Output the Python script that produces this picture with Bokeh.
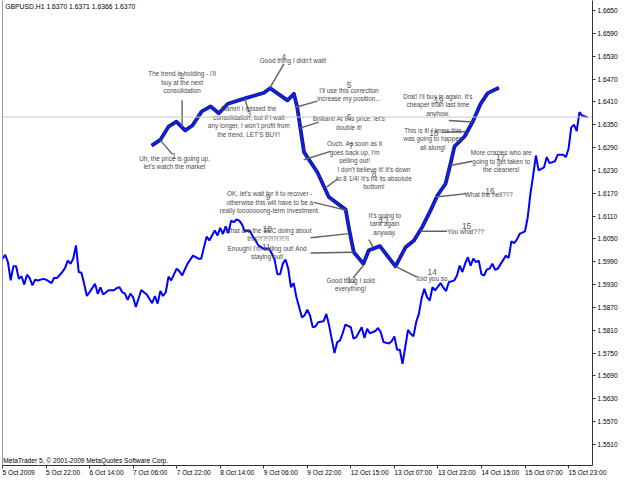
from bokeh.plotting import figure
from bokeh.models import Range1d, FixedTicker, Span, Label, NumeralTickFormatter, BoxAnnotation
from bokeh.embed import file_html
from bokeh.resources import INLINE
from bokeh.core.properties import value

# ---- price series (H1 bar index, close) ----
bar = [0, 1, 2, 3, 4, 5, 6, 7, 8, 9, 10, 11, 12, 13, 15, 16, 18, 19, 20, 22, 23, 24, 25, 26, 27, 28, 29, 30,
       31, 32, 34, 35, 36, 37, 39, 41, 42, 43, 44, 45, 46, 47, 48, 49, 51, 53, 55, 56, 57, 58, 59, 60, 61, 62,
       64, 65, 66, 68, 70, 72, 73, 75, 76, 77, 78, 79, 80, 81, 82, 83, 84, 85, 86, 87, 88, 89, 90, 91, 92, 93,
       94, 96, 98, 99, 100, 101, 102, 103, 104, 105, 106, 107, 108, 109, 110, 111, 112, 113, 114, 115, 116,
       118, 119, 120, 122, 123, 124, 125, 126, 128, 129, 130, 132, 133, 134, 135, 137, 138, 139, 140, 142,
       143, 144, 145, 146, 147, 148, 149, 150, 151, 152, 153, 154, 155, 156, 157, 158, 159, 160, 161, 162,
       163, 164, 166, 167, 168, 169, 170, 171, 172, 173, 174, 175, 176, 177, 178, 179, 180, 181, 182, 184,
       185, 186, 187, 188, 189, 190, 192, 193, 194, 195, 196, 197, 198, 199, 200, 201, 203, 204, 206, 207,
       208, 209, 210, 211, 212, 213, 214, 215]
close = [1.5998, 1.6008, 1.5989, 1.5941, 1.5978, 1.5978, 1.5945, 1.5952, 1.5930, 1.5956, 1.5947, 1.5928,
         1.5943, 1.5941, 1.5945, 1.5943, 1.5934, 1.5948, 1.5947, 1.5963, 1.5974, 1.5993, 1.5985, 1.5998,
         1.6033, 1.5963, 1.5961, 1.5932, 1.5900, 1.5910, 1.5932, 1.5906, 1.5923, 1.5904, 1.5915, 1.5915,
         1.5921, 1.5923, 1.5910, 1.5906, 1.5890, 1.5906, 1.5897, 1.5871, 1.5916, 1.5904, 1.5881, 1.5900,
         1.5880, 1.5913, 1.5900, 1.5910, 1.5951, 1.5941, 1.5972, 1.5965, 1.5954, 1.5985, 1.6006, 1.5998,
         1.5998, 1.6056, 1.6046, 1.6059, 1.6072, 1.6059, 1.6079, 1.6063, 1.6083, 1.6065, 1.6098, 1.6094,
         1.6101, 1.6098, 1.6088, 1.6070, 1.6072, 1.6070, 1.6056, 1.6046, 1.6033, 1.6024, 1.6024, 1.6011,
         1.5995, 1.5957, 1.5957, 1.5985, 1.5996, 1.5972, 1.5923, 1.5934, 1.5897, 1.5871, 1.5844, 1.5849,
         1.5864, 1.5849, 1.5818, 1.5820, 1.5831, 1.5834, 1.5853, 1.5823, 1.5750, 1.5779, 1.5783, 1.5802,
         1.5825, 1.5818, 1.5788, 1.5792, 1.5818, 1.5790, 1.5814, 1.5802, 1.5808, 1.5816, 1.5805, 1.5779,
         1.5775, 1.5781, 1.5794, 1.5759, 1.5759, 1.5722, 1.5766, 1.5811, 1.5801, 1.5794, 1.5831, 1.5853,
         1.5894, 1.5919, 1.5897, 1.5888, 1.5923, 1.5915, 1.5925, 1.5934, 1.5922, 1.5913, 1.5936, 1.5941,
         1.5954, 1.5980, 1.5963, 1.5985, 1.6002, 1.5980, 1.5998, 1.5989, 1.5993, 1.5957, 1.5954, 1.5970,
         1.5972, 1.5985, 1.5969, 1.5972, 1.5995, 1.6006, 1.6000, 1.6044, 1.6039, 1.6048, 1.6063, 1.6070,
         1.6107, 1.6169, 1.6217, 1.6269, 1.6230, 1.6234, 1.6238, 1.6265, 1.6249, 1.6254, 1.6271, 1.6271,
         1.6265, 1.6287, 1.6343, 1.6350, 1.6333, 1.6383, 1.6374, 1.6372, 1.6370]
last_price = 1.6370

# ---- hand-drawn market-cycle overlay ----
cycle_bar = [54.8, 58.1, 61.0, 63.9, 67.1, 69.8, 73.2, 76.5, 79.5, 82.8, 90.0, 96.1, 98.3, 104.7, 107.1,
             108.3, 110.8, 115.7, 119.9, 126.1, 127.7, 129.1, 132.6, 134.6, 138.7, 144.4, 148.1, 151.2,
             154.2, 157.3, 159.8, 162.8, 164.6, 166.1, 169.8, 173.0, 175.7, 178.3, 182.4]
cycle_price = [1.6295, 1.6311, 1.6345, 1.6358, 1.6335, 1.6348, 1.6385, 1.6398, 1.6380, 1.6405, 1.6421,
               1.6434, 1.6446, 1.6414, 1.6431, 1.6396, 1.6278, 1.6225, 1.6160, 1.6127, 1.6063, 1.6015,
               1.5985, 1.6020, 1.6031, 1.5978, 1.6028, 1.6046, 1.6081, 1.6125, 1.6164, 1.6195, 1.6247,
               1.6293, 1.6319, 1.6361, 1.6405, 1.6433, 1.6447]

# ---- callouts ----
note_num = [str(i) for i in range(1, 20)]
note_num_bar = [63.0, 66.0, 90.5, 103.4, 127.3, 127.3, 128.2, 136.5, 97.6, 97.3, 96.9, 128.2, 140.1,
                157.9, 170.5, 179.1, 183.0, 158.5, 160.3]
note_num_price = [1.6269, 1.6477, 1.6378, 1.6527, 1.6455, 1.6370, 1.6295, 1.6221, 1.6160, 1.6075, 1.6028,
                  1.5943, 1.6100, 1.5963, 1.6085, 1.6177, 1.6265, 1.6328, 1.6414]
note_text = [
    "Uh, the price is going up,\nlet's watch the market",
    "The trend is holding - I'll\nbuy at the next\nconsolidation",
    "Damn! I missed the\nconsolidation, but if I wait\nany longer, I won't profit from\nthe trend. LET'S BUY!",
    "Good thing I didn't wait!",
    "I'll use this correction\nincrease my position...",
    "Brilliant! At this price, let's\ndouble it!",
    "Ouch. As soon as it\ngoes back up, I'm\nselling out!",
    "I don't believe it! It's down\nto 8 1/4! It's hit its absolute\nbottom!",
    "OK, let's wait for it to recover -\notherwise this will have to be a\nreally looooooong-term investment.",
    "What are the SEC doing about\nthis?!?!?!?!?!?!",
    "Enough! I'm selling out! And\nstaying out!",
    "Good thing I sold\neverything!",
    "It's going to\ntank again\nanyway.",
    "Told you so.",
    "You what???",
    "What the hell???",
    "More crazies who are\ngoing to get taken to\nthe cleaners!",
    "This is it! I knew this\nwas going to happen\nall along!",
    "Drat! I'll buy in again. It's\ncheaper than last time\nanyhow.",
]
note_text_bar = [63.2, 66.0, 90.5, 106.8, 127.3, 127.3, 129.4, 136.5, 98.2, 97.6, 97.3, 127.9, 140.5,
                 157.9, 170.2, 178.7, 183.3, 158.1, 160.0]
note_text_price = [1.6251, 1.6462, 1.6359, 1.6519, 1.6429, 1.6354, 1.6278, 1.6210, 1.6146, 1.6062, 1.6014,
                   1.5930, 1.6090, 1.5947, 1.6070, 1.6167, 1.6254, 1.6313, 1.6402]
lead_bar0 = [58.1, 66.0, 89.0, 98.2, 107.7, 109.3, 110.7, 119.1, 114.4, 113.2, 113.2, 132.6, 136.2, 144.4,
             153.6, 159.1, 164.6, 170.2, 172.6]
lead_price0 = [1.6309, 1.6414, 1.6418, 1.6446, 1.6396, 1.6341, 1.6258, 1.6186, 1.6146, 1.6053, 1.6013,
               1.5980, 1.6028, 1.5978, 1.6070, 1.6160, 1.6243, 1.6332, 1.6357]
lead_bar1 = [62.4, 66.0, 90.5, 103.4, 115.7, 116.2, 120.5, 123.2, 126.4, 127.3, 128.9, 129.1, 134.6, 152.1,
             163.4, 170.5, 172.6, 161.6, 164.0]
lead_price1 = [1.6272, 1.6345, 1.6385, 1.6510, 1.6412, 1.6357, 1.6280, 1.6208, 1.6125, 1.6064, 1.6015,
               1.5950, 1.6048, 1.5950, 1.6070, 1.6169, 1.6254, 1.6330, 1.6361]

# ---- axes ----
x_tick_bars = [0, 16, 32, 48, 64, 80, 96, 112, 128, 144, 160, 176, 192, 208]
x_tick_labels = ["5 Oct 2009", "5 Oct 22:00", "6 Oct 14:00", "7 Oct 06:00", "7 Oct 22:00", "8 Oct 14:00",
                 "9 Oct 06:00", "9 Oct 22:00", "12 Oct 15:00", "13 Oct 07:00", "13 Oct 23:00",
                 "14 Oct 15:00", "15 Oct 07:00", "15 Oct 23:00"]
y_ticks = [1.5510, 1.5570, 1.5630, 1.5690, 1.5750, 1.5810, 1.5870, 1.5930, 1.5990, 1.6050, 1.6110,
           1.6170, 1.6230, 1.6290, 1.6350, 1.6410, 1.6470, 1.6530, 1.6590, 1.6650]
title_text = "GBPUSD,H1  1.6370 1.6371 1.6366 1.6370"
copyright_text = "MetaTrader 5, \u00a9 2001-2009 MetaQuotes Software Corp."

FONT = "Liberation Sans"
GREY = "#4a4a4a"
Y0, Y1 = 1.54548, 1.66763
PX = 3807.0  # screen pixels per price unit

p = figure(width=625, height=482, output_backend="svg", toolbar_location=None,
           x_range=Range1d(0, 216.8), y_range=Range1d(Y0, Y1),
           y_axis_location="right", min_border_left=2, min_border_right=33,
           min_border_top=0, min_border_bottom=17)
p.grid.visible = False
p.outline_line_color = None
p.background_fill_color = "white"
p.border_fill_color = "white"

xa = p.xaxis[0]
xa.ticker = FixedTicker(ticks=x_tick_bars)
xa.major_label_overrides = {b: l for b, l in zip(x_tick_bars, x_tick_labels)}
xa.major_label_orientation = -0.0001   # tiny negative angle -> labels anchored left of the tick
xa.major_label_standoff = 4
ya = p.yaxis[0]
ya.ticker = FixedTicker(ticks=y_ticks)
ya.formatter = NumeralTickFormatter(format="0.0000")
ya.major_label_standoff = 2
for ax in (xa, ya):
    ax.axis_line_color = "#333333"
    ax.major_tick_line_color = "#333333"
    ax.minor_tick_line_color = None
    ax.major_tick_in = 0
    ax.major_tick_out = 3
    ax.major_label_text_font = FONT
    ax.major_label_text_font_size = "6.6px"
    ax.major_label_text_color = "#000000"

p.add_layout(Span(location=0, dimension="height", line_color="#333333", line_width=1))
p.add_layout(Span(location=last_price, dimension="width", line_color="#c8c8c8", line_width=1))
# dark window edge below the axis strip
p.add_layout(BoxAnnotation(left=-5, right=240, top=Y1 - 479 / PX, bottom=Y1 - 490 / PX,
                           fill_color="#000000", fill_alpha=1.0, line_color=None))

p.line(bar, close, line_color="#0000ff", line_width=2)

p.line(cycle_bar, cycle_price, line_color="#22224a", line_width=3.8, line_join="round")
p.line(cycle_bar, cycle_price, line_color="#0a1cff", line_width=2.3, line_join="round")

p.segment(x0=lead_bar0, y0=lead_price0, x1=lead_bar1, y1=lead_price1, line_color="#606060", line_width=1.4)

p.text(x=note_text_bar, y=note_text_price, text=note_text, text_align="center", text_baseline="middle",
       text_font=value(FONT), text_font_size="6.4px", text_color=GREY, text_line_height=1.22)
p.text(x=note_num_bar, y=note_num_price, text=note_num, text_align="center", text_baseline="middle",
       text_font=value(FONT), text_font_size="8.3px", text_color="#5a5a5a")

p.text(x=[1.0], y=[1.6660], text=[title_text], text_align="left", text_baseline="middle",
       text_font=value(FONT), text_font_size="6.8px", text_color="#000000")
p.text(x=[0.3], y=[1.5468], text=[copyright_text], text_align="left", text_baseline="middle",
       text_font=value(FONT), text_font_size="6.6px", text_color="#000000")

p.add_layout(Label(x=217.6, y=last_price, text="1.6370", text_baseline="middle", text_align="left",
                   text_font=FONT, text_font_size="6.6px", text_color="#000000",
                   background_fill_color="#c0c0c0", padding=1))

open("out.html", "w").write(file_html(p, INLINE))
